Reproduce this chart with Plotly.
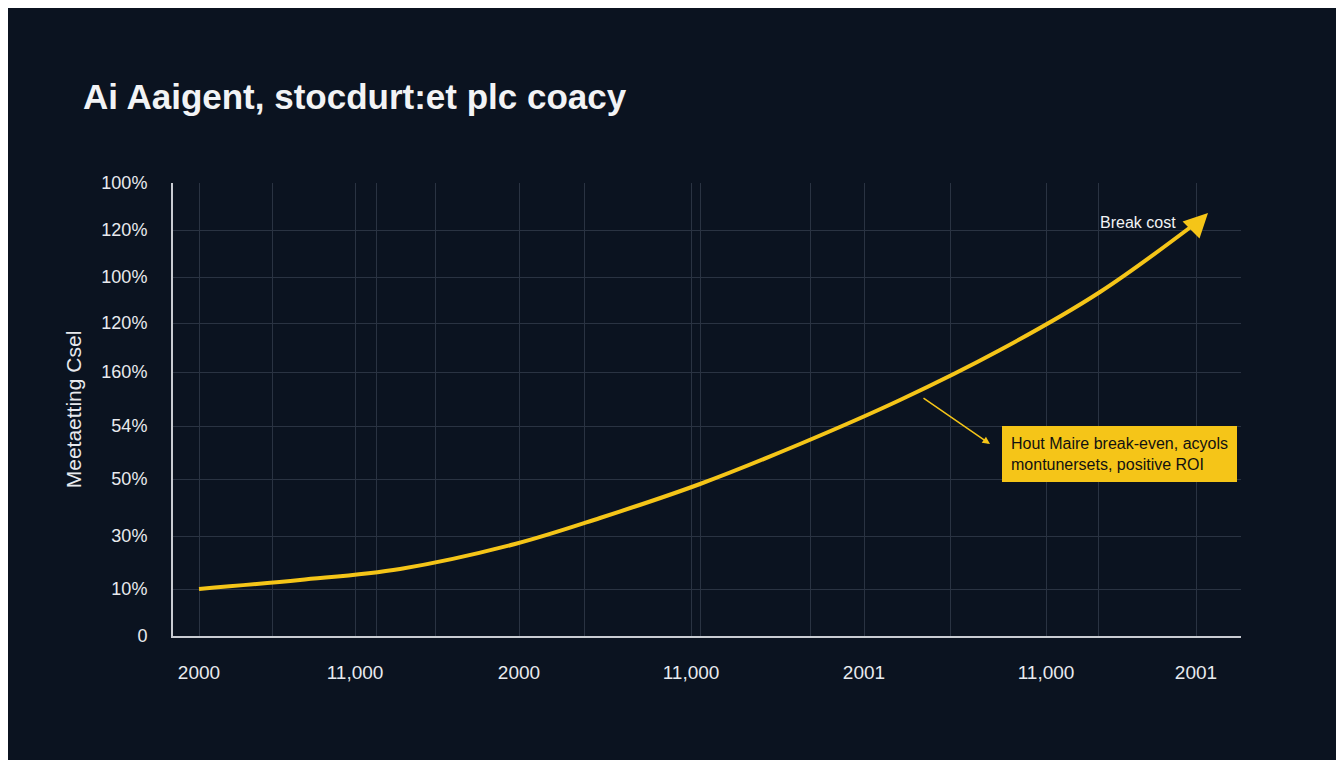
import plotly.graph_objects as go

# values (x in chart units, y in chart units)
curve_x = [199, 300, 400, 515, 600, 700, 800, 900, 1000, 1100, 1200]
curve_y = [47, 56, 67, 92, 118, 152, 192, 236, 286, 344, 416]

ytick_vals = [0, 47, 100, 157, 210, 264, 313, 359, 406, 453]
ytick_text = ['0', '10%', '30%', '50%', '54%', '160%', '120%', '100%', '120%', '100%']

xtick_vals = [199, 355, 519, 691, 864, 1046, 1196]
xtick_text = ['2000', '11,000', '2000', '11,000', '2001', '11,000', '2001']
xgrid_extra = [272, 376, 435, 584, 700, 810, 950, 1098]

bg = '#0b1320'
yellow = '#f5c518'
grid = '#2a3342'

fig = go.Figure()
fig.add_trace(go.Scatter(x=curve_x, y=curve_y, mode='lines',
                         line=dict(color=yellow, width=4, shape='spline', smoothing=1.0),
                         showlegend=False, hoverinfo='skip'))

# page has an 8px body margin, so the figure is shifted by 8px
fig.update_layout(
    width=1328, height=752, paper_bgcolor=bg, plot_bgcolor=bg,
    margin=dict(l=165, r=95, t=175, b=124),
    font=dict(family='Liberation Sans, Arial, sans-serif', color='#e8eaee', size=18),
    title=dict(text='<b>Ai Aaigent, stocdurt:et plc coacy</b>', x=75 / 1328, xanchor='left',
               y=1 - 89 / 752, yanchor='middle', font=dict(size=35, color='#f2f3f5')),
    xaxis=dict(range=[173, 1241], tickvals=xtick_vals, ticktext=xtick_text, showgrid=True, gridcolor=grid,
               minor=dict(tickvals=xgrid_extra, showgrid=True, gridcolor=grid), zeroline=False,
               showline=True, linecolor='#c9ccd2', linewidth=2, ticks='', ticklabelstandoff=18,
               tickfont=dict(size=19)),
    yaxis=dict(range=[0, 453], tickvals=ytick_vals, ticktext=ytick_text, showgrid=True, gridcolor=grid,
               zeroline=False, showline=True, linecolor='#c9ccd2', linewidth=2, ticks='', ticklabelstandoff=20,
               tickfont=dict(size=18),
               title=dict(text='Meetaetting Csel', font=dict(size=21), standoff=14)),
)

# arrowhead at the end of the curve
fig.add_annotation(x=1208, y=423, ax=1190, ay=405, xref='x', yref='y', axref='x', ayref='y', text='',
                   showarrow=True, arrowhead=2, arrowsize=1.2, arrowwidth=4, arrowcolor=yellow)
fig.add_annotation(x=1138, y=414, xref='x', yref='y', text='Break cost', showarrow=False,
                   font=dict(size=16, color='#f2f3f5'))

# callout
fig.add_annotation(x=990, y=192, ax=922, ay=239, xref='x', yref='y', axref='x', ayref='y', text='',
                   showarrow=True, arrowhead=2, arrowwidth=1.5, arrowcolor=yellow)
fig.add_annotation(x=1119, y=182, xref='x', yref='y', showarrow=False,
                   text='Hout Maire break-even, acyols<br>montunersets, positive ROI',
                   bgcolor=yellow, bordercolor=yellow, borderpad=8, align='left',
                   font=dict(size=16, color='#111111'))

fig.write_html('out.html')
